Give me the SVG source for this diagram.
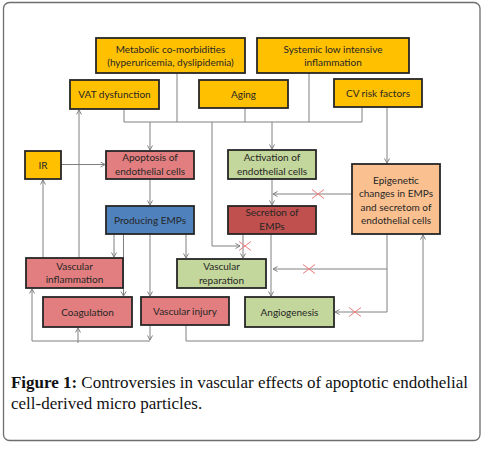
<svg xmlns="http://www.w3.org/2000/svg" width="483" height="450" viewBox="0 0 483 450">
<defs>
<style>
.box{stroke:#262626;stroke-width:1.8}
.or{fill:#FFC000}
.pk{fill:#E27E7F}
.gr{fill:#C3D69B}
.bl{fill:#4F81BD}
.dr{fill:#C0504D}
.ep{fill:#FAC090}
.t{font-family:Lato,"Liberation Sans",sans-serif;font-size:10px;fill:#262626;text-anchor:middle}
.c{fill:none;stroke:#808080;stroke-width:1}
.x{stroke:#EC7A7A;stroke-width:1;fill:none}
.cap{font-family:"Liberation Serif",serif;font-size:17px;fill:#111}
</style>
<marker id="ar" markerUnits="userSpaceOnUse" markerWidth="7" markerHeight="7" refX="5" refY="3" orient="auto">
<path d="M0.5,0.5 L5,3 L0.5,5.5" fill="none" stroke="#808080" stroke-width="1"/>
</marker>
</defs>
<rect x="3.5" y="2.5" width="476.5" height="438" rx="6" fill="#fff" stroke="#6e6e6e" stroke-width="1.3"/>

<g id="connectors">
<path class="c" d="M177,73 V122"/>
<path class="c" d="M124,109 V122"/>
<path class="c" d="M245,108 V122"/>
<path class="c" d="M309,73 V122"/>
<path class="c" d="M362,107 V122"/>
<path class="c" d="M124,122 H362"/>
<path class="c" d="M150,122 V150" marker-end="url(#ar)"/>
<path class="c" d="M272,122 V149" marker-end="url(#ar)"/>
<path class="c" d="M212,122 V246 H240" marker-end="url(#ar)"/>
<path class="c" d="M387,107 V163" marker-end="url(#ar)"/>
<path class="c" d="M61,164.5 H105" marker-end="url(#ar)"/>
<path class="c" d="M43,258 V180" marker-end="url(#ar)"/>
<path class="c" d="M79,258 V110" marker-end="url(#ar)"/>
<path class="c" d="M150,179 V205" marker-end="url(#ar)"/>
<path class="c" d="M272,179 V205" marker-end="url(#ar)"/>
<path class="c" d="M352,194 H273" marker-end="url(#ar)"/>
<path class="c" d="M114,234 V257" marker-end="url(#ar)"/>
<path class="c" d="M123.5,234 V296" marker-end="url(#ar)"/>
<path class="c" d="M150,234 V296" marker-end="url(#ar)"/>
<path class="c" d="M186,234 V258" marker-end="url(#ar)"/>
<path class="c" d="M243,234 V258" marker-end="url(#ar)"/>
<path class="c" d="M271,234 V296" marker-end="url(#ar)"/>
<path class="c" d="M387,234 V312"/>
<path class="c" d="M387,269 H273" marker-end="url(#ar)"/>
<path class="c" d="M387,312 H335" marker-end="url(#ar)"/>
<path class="c" d="M150,325 V340" marker-end="url(#ar)"/>
<path class="c" d="M150,341 H32 V289" marker-end="url(#ar)"/>
<path class="c" d="M78,343 V328" marker-end="url(#ar)"/>
<path class="c" d="M186,325 V341 H423 V235" marker-end="url(#ar)"/>
<path class="x" d="M312,189.5 L324,198.5 M324,189.5 L312,198.5"/>
<path class="x" d="M239,241.5 L251,250.5 M251,241.5 L239,250.5"/>
<path class="x" d="M303,264.5 L315,273.5 M315,264.5 L303,273.5"/>
<path class="x" d="M349,307.5 L361,316.5 M361,307.5 L349,316.5"/>
</g>

<g id="metabolic"><rect class="box or" x="96" y="38" width="149" height="35"/><text class="t" x="170.5" y="52.5">Metabolic co-morbidities</text><text class="t" x="170.5" y="66">(hyperuricemia, dyslipidemia)</text></g>
<g id="systemic"><rect class="box or" x="257" y="38" width="152" height="35"/><text class="t" x="333" y="52.5">Systemic low intensive</text><text class="t" x="333" y="66">inflammation</text></g>
<g id="vat"><rect class="box or" x="70" y="80" width="89" height="29"/><text class="t" x="114.5" y="98">VAT dysfunction</text></g>
<g id="aging"><rect class="box or" x="199" y="80" width="89" height="28"/><text class="t" x="243.5" y="98">Aging</text></g>
<g id="cv"><rect class="box or" x="334" y="79" width="88" height="28"/><text class="t" x="378" y="96.5">CV risk factors</text></g>
<g id="ir"><rect class="box or" x="25" y="151" width="36" height="28"/><text class="t" x="43" y="168.5">IR</text></g>
<g id="apoptosis"><rect class="box pk" x="106" y="151" width="88" height="28"/><text class="t" x="150" y="161">Apoptosis of</text><text class="t" x="150" y="175">endothelial cells</text></g>
<g id="activation"><rect class="box gr" x="228" y="150" width="88" height="29"/><text class="t" x="272" y="161">Activation of</text><text class="t" x="272" y="175">endothelial cells</text></g>
<g id="epigenetic"><rect class="box ep" x="352" y="164" width="88" height="70"/><text class="t" x="396" y="183.5">Epigenetic</text><text class="t" x="396" y="197">changes in EMPs</text><text class="t" x="396" y="210.5">and secretom of</text><text class="t" x="396" y="223.5">endothelial cells</text></g>
<g id="producing"><rect class="box bl" x="106" y="206" width="88" height="28"/><text class="t" x="150" y="223.5">Producing EMPs</text></g>
<g id="secretion"><rect class="box dr" x="228" y="206" width="88" height="28"/><text class="t" x="272" y="216">Secretion of</text><text class="t" x="272" y="229.5">EMPs</text></g>
<g id="vinflammation"><rect class="box pk" x="26" y="258" width="97" height="30"/><text class="t" x="74.5" y="270">Vascular</text><text class="t" x="74.5" y="283">inflammation</text></g>
<g id="reparation"><rect class="box gr" x="177" y="259" width="89" height="29"/><text class="t" x="221.5" y="270">Vascular</text><text class="t" x="221.5" y="283.5">reparation</text></g>
<g id="coagulation"><rect class="box pk" x="43" y="297" width="89" height="30"/><text class="t" x="87.5" y="316">Coagulation</text></g>
<g id="injury"><rect class="box pk" x="141" y="297" width="88" height="28"/><text class="t" x="185" y="314.5">Vascular injury</text></g>
<g id="angiogenesis"><rect class="box gr" x="245" y="297" width="89" height="30"/><text class="t" x="289.5" y="315.5">Angiogenesis</text></g>

<text class="cap" x="11" y="388" textLength="457" lengthAdjust="spacing"><tspan font-weight="bold">Figure 1:</tspan> Controversies in vascular effects of apoptotic endothelial</text>
<text class="cap" x="11" y="408.5">cell-derived micro particles.</text>
</svg>
